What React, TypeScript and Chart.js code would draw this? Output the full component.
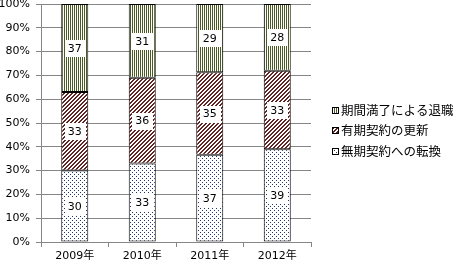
import React, { useEffect, useRef } from "react";
import { Chart, registerables } from "chart.js";

Chart.register(...registerables);

const categories = ["2009年", "2010年", "2011年", "2012年"];
const seriesNames = ["無期契約への転換", "有期契約の更新", "期間満了による退職"];
const conversion = [30, 33, 37, 39];
const renewal = [33, 36, 35, 33];
const retirement = [37, 31, 29, 28];
const yTicks = [0, 10, 20, 30, 40, 50, 60, 70, 80, 90, 100];

const rawSeries = [conversion, renewal, retirement];
const totals = categories.map((_, i) => rawSeries.reduce((s, arr) => s + arr[i], 0));
const pctSeries = rawSeries.map((arr) => arr.map((v, i) => (v / totals[i]) * 100));

const GRID = "#868686";
const FONT_NUM = "'DejaVu Sans', 'Noto Sans CJK JP', sans-serif";
const FONT_JP = "'Noto Sans CJK JP', sans-serif";

function makeTile(w: number, h: number, color: string, on: (x: number, y: number) => boolean) {
  const c = document.createElement("canvas");
  c.width = w;
  c.height = h;
  const g = c.getContext("2d")!;
  g.fillStyle = "#ffffff";
  g.fillRect(0, 0, w, h);
  g.fillStyle = color;
  for (let y = 0; y < h; y++) for (let x = 0; x < w; x++) if (on(x, y)) g.fillRect(x, y, 1, 1);
  return c;
}

export default function App() {
  const ref = useRef<HTMLCanvasElement | null>(null);
  useEffect(() => {
    const canvas = ref.current!;
    const ctx = canvas.getContext("2d")!;
    const dotTile = makeTile(4, 4, "#1f3864", (x, y) => (y === 0 && x === 0) || (y === 2 && x === 2));
    const hatchTile = makeTile(4, 4, "#632523", (x, y) => (x + y) % 4 === 0 || (x + y) % 4 === 1);
    const lineTile = makeTile(2, 2, "#4a5c24", (x) => x === 0);
    const patterns = [
      ctx.createPattern(dotTile, "repeat")!,
      ctx.createPattern(hatchTile, "repeat")!,
      ctx.createPattern(lineTile, "repeat")!,
    ];

    const labelPlugin = {
      id: "segLabels",
      afterDatasetsDraw(chart: any) {
        const c = chart.ctx;
        c.save();
        c.font = `11px ${FONT_NUM}`;
        c.textAlign = "center";
        c.textBaseline = "middle";
        chart.data.datasets.forEach((ds: any, di: number) => {
          const meta = chart.getDatasetMeta(di);
          meta.data.forEach((el: any, i: number) => {
            const cy = (el.y + el.base) / 2;
            const cx = el.x;
            c.fillStyle = "#ffffff";
            c.fillRect(Math.round(cx - 10), Math.round(cy - 8), 21, 17);
            c.fillStyle = "#000000";
            c.fillText(String(rawSeries[di][i]), cx, cy + 1);
          });
        });
        c.restore();
      },
    };

    const legendPlugin = {
      id: "customLegend",
      afterDraw(chart: any) {
        const c = chart.ctx;
        c.save();
        c.font = `12.5px ${FONT_JP}`;
        c.textBaseline = "middle";
        c.textAlign = "left";
        const order = [2, 1, 0];
        order.forEach((di, k) => {
          const cy = 110 + k * 20.5;
          const bx = 332;
          const by = Math.round(cy - 3.5);
          c.fillStyle = patterns[di];
          c.fillRect(bx, by, 7, 7);
          c.strokeStyle = "#000000";
          c.lineWidth = 1;
          c.strokeRect(bx + 0.5, by + 0.5, 6, 6);
          c.fillStyle = "#000000";
          c.fillText(seriesNames[di], 341, cy);
        });
        c.restore();
      },
    };

    const chart = new Chart(canvas, {
      type: "bar",
      data: {
        labels: categories,
        datasets: pctSeries.map((d, i) => ({
          label: seriesNames[i],
          data: d,
          backgroundColor: patterns[i],
          borderColor: "#000000",
          borderWidth: 1,
          borderSkipped: false,
          categoryPercentage: 1,
          barPercentage: 0.4,
        })),
      },
      options: {
        responsive: false,
        animation: false,
        events: [],
        layout: { padding: { top: 4, right: 143, left: 0, bottom: 0 } },
        plugins: { legend: { display: false }, tooltip: { enabled: false } },
        scales: {
          x: {
            stacked: true,
            grid: {
              drawOnChartArea: false,
              drawTicks: true,
              tickLength: 5,
              color: GRID,
              offset: true,
            },
            border: { color: GRID },
            ticks: { color: "#000", font: { family: FONT_NUM, size: 11 }, padding: 3 },
            afterFit: (s: any) => {
              s.height = 22;
              s.paddingLeft = 0;
              s.paddingRight = 0;
            },
          },
          y: {
            stacked: true,
            min: 0,
            max: 100,
            afterBuildTicks: (s: any) => {
              s.ticks = yTicks.map((v) => ({ value: v }));
            },
            grid: {
              color: GRID,
              borderDash: [5, 4],
              tickBorderDash: [1, 0],
              tickColor: GRID,
              tickLength: 5,
            },
            border: { color: GRID, dash: [] },
            ticks: {
              color: "#000",
              font: { family: FONT_NUM, size: 11 },
              padding: 6,
              callback: (v: any) => v + "%",
            },
            afterFit: (s: any) => {
              s.width = 41;
              s.paddingTop = 0;
              s.paddingBottom = 0;
            },
          },
        },
      },
      plugins: [labelPlugin, legendPlugin],
    });
    return () => chart.destroy();
  }, []);
  return (
    <canvas
      ref={ref}
      width={454}
      height={264}
      style={{ position: "absolute", left: 0, top: 0, width: 454, height: 264, display: "block" }}
    />
  );
}
